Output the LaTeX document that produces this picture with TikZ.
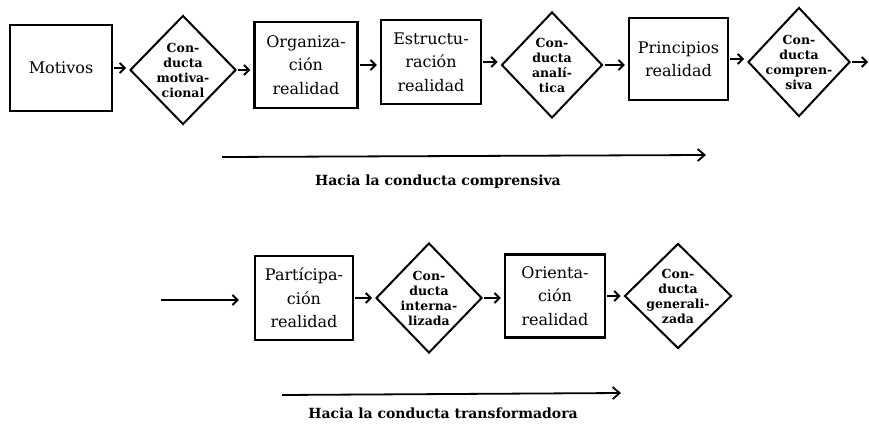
\documentclass[tikz,border=0pt]{standalone}
\usepackage{fontspec}
\setmainfont{DejaVu Serif}
\usetikzlibrary{shapes.geometric,arrows.meta}

\tikzset{
  stage/.style={draw, line width=2.5pt, rectangle, align=center, inner sep=0pt,
    font=\fontsize{16}{23.5}\selectfont},
  conduct/.style={draw, line width=2pt, diamond, align=center, inner sep=-14pt,
    font=\bfseries\fontsize{12.5}{15}\selectfont},
  link/.style={line width=1.8pt, -{Straight Barb[length=5pt,width=10pt,line width=1.8pt]},
    shorten >=3pt, shorten <=1pt},
  trend/.style={line width=1.8pt, -{Straight Barb[length=7pt,width=12pt,line width=1.8pt]}},
  caption/.style={font=\bfseries\fontsize{14}{16}\selectfont, inner sep=0pt}
}

\begin{document}
\begin{tikzpicture}[x=1pt,y=-1pt]
\useasboundingbox (0,0) rectangle (869,433);

% upper sequence
\node[stage, minimum width=102pt, minimum height=86pt] (mot) at (61,68) {Motivos};
\node[conduct, minimum width=106pt, minimum height=109pt] (cmot) at (183,70) {Con-\\ducta\\motiva-\\cional};
\node[stage, minimum width=103pt, minimum height=86pt] (org) at (306,65) {Organiza-\\ción\\realidad};
\node[stage, minimum width=100pt, minimum height=84pt] (est) at (431,62) {Estructu-\\ración\\realidad};
\node[conduct, minimum width=101pt, minimum height=106pt] (cana) at (552,65) {Con-\\ducta\\analí-\\tica};
\node[stage, minimum width=99pt, minimum height=82pt] (pri) at (678.5,59) {Principios\\realidad};
\node[conduct, minimum width=102pt, minimum height=109pt] (ccom) at (799,62) {Con-\\ducta\\compren-\\siva};
\coordinate (out1) at (871,62);

\draw[link] (mot.east) -- (mot.east -| cmot.west);
\draw[link] (cmot.east) -- (cmot.east -| org.west);
\draw[link] (org.east) -- (org.east -| est.west);
\draw[link] (est.east) -- (est.east -| cana.west);
\draw[link] (cana.east) -- (cana.east -| pri.west);
\draw[link] (pri.east) -- (pri.east -| ccom.west);
\draw[link] (ccom.east) -- (out1);

% trend towards comprehension
\coordinate (t1a) at (222,157);
\coordinate (t1b) at (706,155);
\draw[trend] (t1a) -- (t1b);
\node[caption] (cap1) at (438,182) {Hacia la conducta comprensiva};

% lower sequence
\coordinate (in2) at (160,300);
\node[stage, minimum width=98pt, minimum height=84pt] (par) at (304,298) {Partícipa-\\ción\\realidad};
\node[conduct, minimum width=106pt, minimum height=110pt] (cint) at (429,298) {Con-\\ducta\\interna-\\lizada};
\node[stage, minimum width=100pt, minimum height=83pt] (ori) at (555,296) {Orienta-\\ción\\realidad};
\node[conduct, minimum width=107pt, minimum height=105pt] (cgen) at (678,296) {Con-\\ducta\\generali-\\zada};

\draw[link, shorten >=15pt] (in2) -- (in2 -| par.west);
\draw[link] (par.east) -- (par.east -| cint.west);
\draw[link] (cint.east) -- (cint.east -| ori.west);
\draw[link] (ori.east) -- (ori.east -| cgen.west);

% trend towards transformation
\coordinate (t2a) at (282,395);
\coordinate (t2b) at (621,393);
\draw[trend] (t2a) -- (t2b);
\node[caption] (cap2) at (443,413) {Hacia la conducta transformadora};
\end{tikzpicture}
\end{document}
